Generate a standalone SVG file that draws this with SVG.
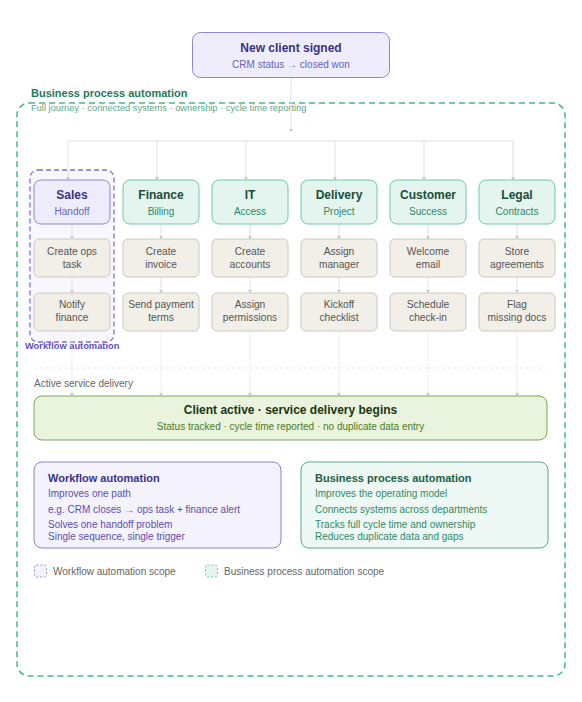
<svg xmlns="http://www.w3.org/2000/svg" width="582" height="702" viewBox="0 0 582 702">
<style>
text{font-family:"Liberation Sans",Arial,sans-serif}
.t{font-weight:bold;font-size:12px;text-anchor:middle}
.s{font-size:10px;text-anchor:middle}
.dept rect{fill:#e3f5ee;stroke:#6ccaa6;stroke-width:1}
.dept .t{fill:#174d3a}.dept .s{fill:#2a8a66}
.task rect{fill:#f2efe8;stroke:#cdc8be;stroke-width:1}
.task text{font-size:10.2px;fill:#555;text-anchor:middle}
.conn{stroke:#e0e0e0;stroke-width:1;fill:none}
.conn2{stroke:#efefef;stroke-width:1;fill:none}
.wf{fill:#5b4fb0;font-size:10px}
.bp{fill:#2e8a65;font-size:10px}
</style>
<defs>
<marker id="dn" markerWidth="4" markerHeight="3" refX="2" refY="3" markerUnits="userSpaceOnUse" viewBox="0 0 4 3">
<path d="M0,0 L4,0 L2,3 Z" fill="#c9c9c9"/>
</marker>
</defs>

<!-- Business process automation scope -->
<g id="bpa-scope">
<rect x="17" y="103" width="548" height="573" rx="12" fill="none" stroke="#43b98c" stroke-width="1.5" stroke-dasharray="6 4"/>
<text x="31" y="97" font-size="11" font-weight="bold" fill="#1f7a5a">Business process automation</text>
<text x="31" y="111" font-size="9.3" fill="#5aa98a">Full journey · connected systems · ownership · cycle time reporting</text>
</g>

<!-- Workflow automation scope -->
<g id="wf-scope">
<rect x="30" y="170" width="84" height="172" rx="8" fill="#f8f7fe" stroke="#7e70d8" stroke-width="1.3" stroke-dasharray="5 3"/>
</g>

<!-- connectors -->
<g id="connectors">
<line class="conn" x1="291" y1="77" x2="291" y2="132" marker-end="url(#dn)"/>
<polyline class="conn" points="68,141 513,141"/>
<line class="conn" x1="68" y1="141" x2="68" y2="180" marker-end="url(#dn)"/>
<line class="conn" x1="157" y1="141" x2="157" y2="180" marker-end="url(#dn)"/>
<line class="conn" x1="246" y1="141" x2="246" y2="180" marker-end="url(#dn)"/>
<line class="conn" x1="335" y1="141" x2="335" y2="180" marker-end="url(#dn)"/>
<line class="conn" x1="424" y1="141" x2="424" y2="180" marker-end="url(#dn)"/>
<line class="conn" x1="513" y1="141" x2="513" y2="180" marker-end="url(#dn)"/>
<g>
<line class="conn" x1="72" y1="224" x2="72" y2="239" marker-end="url(#dn)"/>
<line class="conn" x1="161" y1="224" x2="161" y2="239" marker-end="url(#dn)"/>
<line class="conn" x1="250" y1="224" x2="250" y2="239" marker-end="url(#dn)"/>
<line class="conn" x1="339" y1="224" x2="339" y2="239" marker-end="url(#dn)"/>
<line class="conn" x1="428" y1="224" x2="428" y2="239" marker-end="url(#dn)"/>
<line class="conn" x1="517" y1="224" x2="517" y2="239" marker-end="url(#dn)"/>
<line class="conn" x1="72" y1="277" x2="72" y2="293" marker-end="url(#dn)"/>
<line class="conn" x1="161" y1="277" x2="161" y2="293" marker-end="url(#dn)"/>
<line class="conn" x1="250" y1="277" x2="250" y2="293" marker-end="url(#dn)"/>
<line class="conn" x1="339" y1="277" x2="339" y2="293" marker-end="url(#dn)"/>
<line class="conn" x1="428" y1="277" x2="428" y2="293" marker-end="url(#dn)"/>
<line class="conn" x1="517" y1="277" x2="517" y2="293" marker-end="url(#dn)"/>
</g>
<g>
<line class="conn2" x1="72" y1="331" x2="72" y2="396" marker-end="url(#dn)"/>
<line class="conn2" x1="161" y1="331" x2="161" y2="396" marker-end="url(#dn)"/>
<line class="conn2" x1="250" y1="331" x2="250" y2="396" marker-end="url(#dn)"/>
<line class="conn2" x1="339" y1="331" x2="339" y2="396" marker-end="url(#dn)"/>
<line class="conn2" x1="428" y1="331" x2="428" y2="396" marker-end="url(#dn)"/>
<line class="conn2" x1="517" y1="331" x2="517" y2="396" marker-end="url(#dn)"/>
</g>
<line x1="34" y1="368" x2="545" y2="368" stroke="#e8e8e8" stroke-width="1" stroke-dasharray="3 3"/>
</g>

<text x="25" y="349" font-size="9.3" font-weight="bold" fill="#5b4fc4">Workflow automation</text>

<!-- top node -->
<g id="new-client">
<rect x="192.5" y="32.5" width="197" height="45" rx="8" fill="#efedfb" stroke="#8f84d8" stroke-width="1"/>
<text x="291" y="52" class="t" fill="#3b3284">New client signed</text>
<text x="291" y="68" class="s" fill="#6a5fc1">CRM status → closed won</text>
</g>

<!-- departments -->
<g id="sales">
<rect x="34" y="180" width="76" height="44" rx="7" fill="#eeecfb" stroke="#8f84d8" stroke-width="1"/>
<text x="72" y="198.5" class="t" fill="#3b3284">Sales</text>
<text x="72" y="214.5" class="s" fill="#6a5fc1">Handoff</text>
</g>
<g id="finance" class="dept"><rect x="123" y="180" width="76" height="44" rx="7"/><text x="161" y="198.5" class="t">Finance</text><text x="161" y="214.5" class="s">Billing</text></g>
<g id="it" class="dept"><rect x="212" y="180" width="76" height="44" rx="7"/><text x="250" y="198.5" class="t">IT</text><text x="250" y="214.5" class="s">Access</text></g>
<g id="delivery" class="dept"><rect x="301" y="180" width="76" height="44" rx="7"/><text x="339" y="198.5" class="t">Delivery</text><text x="339" y="214.5" class="s">Project</text></g>
<g id="customer" class="dept"><rect x="390" y="180" width="76" height="44" rx="7"/><text x="428" y="198.5" class="t">Customer</text><text x="428" y="214.5" class="s">Success</text></g>
<g id="legal" class="dept"><rect x="479" y="180" width="76" height="44" rx="7"/><text x="517" y="198.5" class="t">Legal</text><text x="517" y="214.5" class="s">Contracts</text></g>

<!-- tasks row 2 -->
<g id="create-ops-task" class="task"><rect x="34" y="239" width="76" height="38" rx="5"/><text x="72" y="255">Create ops</text><text x="72" y="268">task</text></g>
<g id="create-invoice" class="task"><rect x="123" y="239" width="76" height="38" rx="5"/><text x="161" y="255">Create</text><text x="161" y="268">invoice</text></g>
<g id="create-accounts" class="task"><rect x="212" y="239" width="76" height="38" rx="5"/><text x="250" y="255">Create</text><text x="250" y="268">accounts</text></g>
<g id="assign-manager" class="task"><rect x="301" y="239" width="76" height="38" rx="5"/><text x="339" y="255">Assign</text><text x="339" y="268">manager</text></g>
<g id="welcome-email" class="task"><rect x="390" y="239" width="76" height="38" rx="5"/><text x="428" y="255">Welcome</text><text x="428" y="268">email</text></g>
<g id="store-agreements" class="task"><rect x="479" y="239" width="76" height="38" rx="5"/><text x="517" y="255">Store</text><text x="517" y="268">agreements</text></g>

<!-- tasks row 3 -->
<g id="notify-finance" class="task"><rect x="34" y="293" width="76" height="38" rx="5"/><text x="72" y="308">Notify</text><text x="72" y="321">finance</text></g>
<g id="send-payment-terms" class="task"><rect x="123" y="293" width="76" height="38" rx="5"/><text x="161" y="308">Send payment</text><text x="161" y="321">terms</text></g>
<g id="assign-permissions" class="task"><rect x="212" y="293" width="76" height="38" rx="5"/><text x="250" y="308">Assign</text><text x="250" y="321">permissions</text></g>
<g id="kickoff-checklist" class="task"><rect x="301" y="293" width="76" height="38" rx="5"/><text x="339" y="308">Kickoff</text><text x="339" y="321">checklist</text></g>
<g id="schedule-checkin" class="task"><rect x="390" y="293" width="76" height="38" rx="5"/><text x="428" y="308">Schedule</text><text x="428" y="321">check-in</text></g>
<g id="flag-missing-docs" class="task"><rect x="479" y="293" width="76" height="38" rx="5"/><text x="517" y="308">Flag</text><text x="517" y="321">missing docs</text></g>

<text x="34" y="387" font-size="10" fill="#666">Active service delivery</text>

<!-- client active -->
<g id="client-active">
<rect x="34" y="396" width="513" height="44" rx="8" fill="#e9f3dd" stroke="#7ba75b" stroke-width="1"/>
<text x="290.5" y="414" class="t" fill="#1d3512">Client active · service delivery begins</text>
<text x="290.5" y="429.5" class="s" fill="#4d7c25">Status tracked · cycle time reported · no duplicate data entry</text>
</g>

<!-- comparison boxes -->
<g id="wf-box">
<rect x="34" y="462" width="247" height="86" rx="8" fill="#f4f2fd" stroke="#8b80d6" stroke-width="1"/>
<text x="48" y="481.5" font-size="11" font-weight="bold" fill="#3b3284">Workflow automation</text>
<text x="48" y="497" class="wf">Improves one path</text>
<text x="48" y="512.5" class="wf">e.g. CRM closes → ops task + finance alert</text>
<text x="48" y="527.5" class="wf">Solves one handoff problem</text>
<text x="48" y="540" class="wf">Single sequence, single trigger</text>
</g>
<g id="bpa-box">
<rect x="301" y="462" width="247" height="86" rx="8" fill="#eef8f4" stroke="#5aa98a" stroke-width="1"/>
<text x="315" y="481.5" font-size="11" font-weight="bold" fill="#1d5e45">Business process automation</text>
<text x="315" y="497" class="bp">Improves the operating model</text>
<text x="315" y="512.5" class="bp">Connects systems across departments</text>
<text x="315" y="527.5" class="bp">Tracks full cycle time and ownership</text>
<text x="315" y="540" class="bp">Reduces duplicate data and gaps</text>
</g>

<!-- legend -->
<g id="legend">
<rect x="34.5" y="565" width="12" height="12" rx="2" fill="#f4f2fd" stroke="#9a8fe0" stroke-dasharray="2 2"/>
<text x="53" y="574.5" font-size="10" fill="#666">Workflow automation scope</text>
<rect x="205.5" y="565" width="12" height="12" rx="2" fill="#e3f5ee" stroke="#6ccaa6" stroke-dasharray="2 2"/>
<text x="224" y="574.5" font-size="10" fill="#666">Business process automation scope</text>
</g>
</svg>
